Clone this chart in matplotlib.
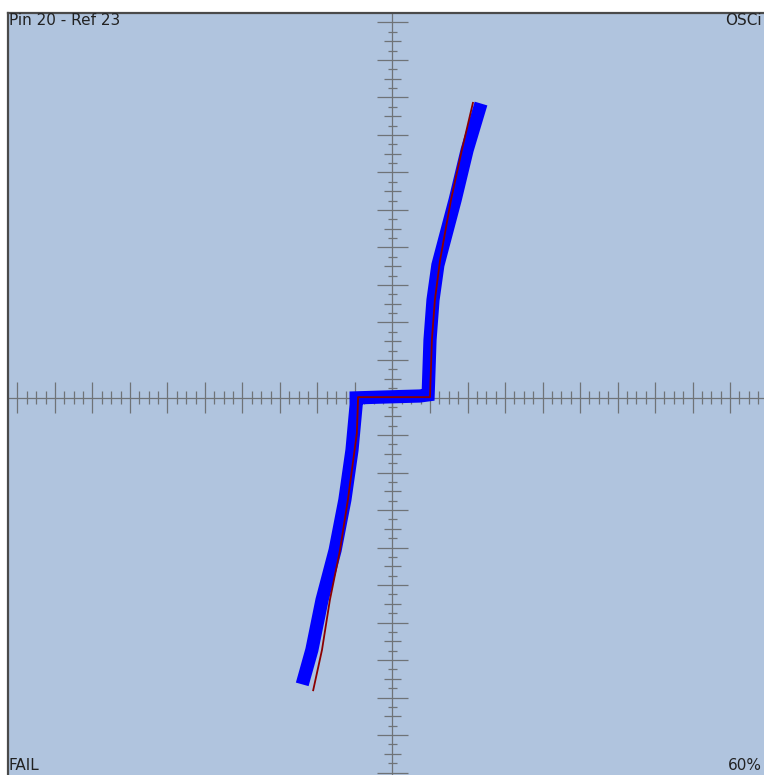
import matplotlib
matplotlib.use('Agg')
import matplotlib.pyplot as plt
import numpy as np

# trace values in screen divisions (origin at centre)
measured_x = [-2.36, -2.15, -1.88, -1.53, -1.27, -1.08, -0.97, -0.97, -0.33, 0.73, 0.95, 1.00, 1.08, 1.21, 1.67, 1.99, 2.31]
measured_y = [-7.48, -6.73, -5.40, -4.07, -2.73, -1.40, -0.20, -0.01, 0.01, 0.04, 0.07, 1.53, 2.60, 3.53, 5.27, 6.60, 7.67]

reference_x = [-2.12, -1.88, -1.67, -1.40, -1.19, -0.95, -0.92, -0.92, 1.00, 1.05, 1.13, 1.27, 1.56, 1.85, 2.15]
reference_y = [-7.83, -6.73, -5.40, -4.07, -2.73, -0.95, -0.07, 0.01, 0.01, 1.53, 2.60, 3.67, 5.27, 6.60, 7.88]

top_left = 'Pin 20 - Ref 23'
top_right = 'OSCi'
bottom_left = 'FAIL'
bottom_right = '60%'

W, H = 764, 775
fig = plt.figure(figsize=(W / 100, H / 100), dpi=100)
fig.patch.set_facecolor('white')

# axes box in pixels: left 8, top 13, square 769 px (cropped by the figure)
ax = fig.add_axes([8 / W, (H - 782) / H, 769 / W, 769 / H])
ax.set_facecolor('#B0C4DE')
lim = 10.253
ax.set_xlim(-lim, lim)
ax.set_ylim(-lim, lim)
ax.set_xticks([])
ax.set_yticks([])
for s in ['right', 'bottom']:
    ax.spines[s].set_visible(False)
for s in ['top', 'left']:
    ax.spines[s].set_color('#4a4a4a')
    ax.spines[s].set_linewidth(1.6)

# graticule cross with ticks
gc = '#6f7377'
ax.axhline(0, color=gc, lw=0.9, zorder=1)
ax.axvline(0, color=gc, lw=0.9, zorder=1)

pos = np.arange(-10, 10.01, 0.25)
for p in pos:
    q = round(p * 4) % 4
    if q == 0:
        hx, hy = 0.40, 0.41
    elif q == 2:
        hx, hy = 0.18, 0.23
    else:
        hx, hy = 0.18, 0.125
    ax.vlines(p, -hx, hx, color=gc, lw=0.9, zorder=1)
    ax.hlines(p, -hy, hy, color=gc, lw=0.9, zorder=1)

ax.plot(measured_x, measured_y, color='#0000FF', lw=9.5,
        solid_capstyle='projecting', solid_joinstyle='miter', zorder=3)
ax.plot(reference_x, reference_y, color='#8B0000', lw=1.3,
        solid_capstyle='butt', zorder=4)

fs = 11
fig.text(9 / W, 1 - 13 / H, top_left, fontsize=fs, va='top', ha='left', color='#222222')
fig.text(762 / W, 1 - 13 / H, top_right, fontsize=fs, va='top', ha='right', color='#222222')
fig.text(9 / W, 1 - 758 / H, bottom_left, fontsize=fs, va='top', ha='left', color='#222222')
fig.text(762 / W, 1 - 758 / H, bottom_right, fontsize=fs, va='top', ha='right', color='#222222')

fig.savefig('out.png', dpi=100)
